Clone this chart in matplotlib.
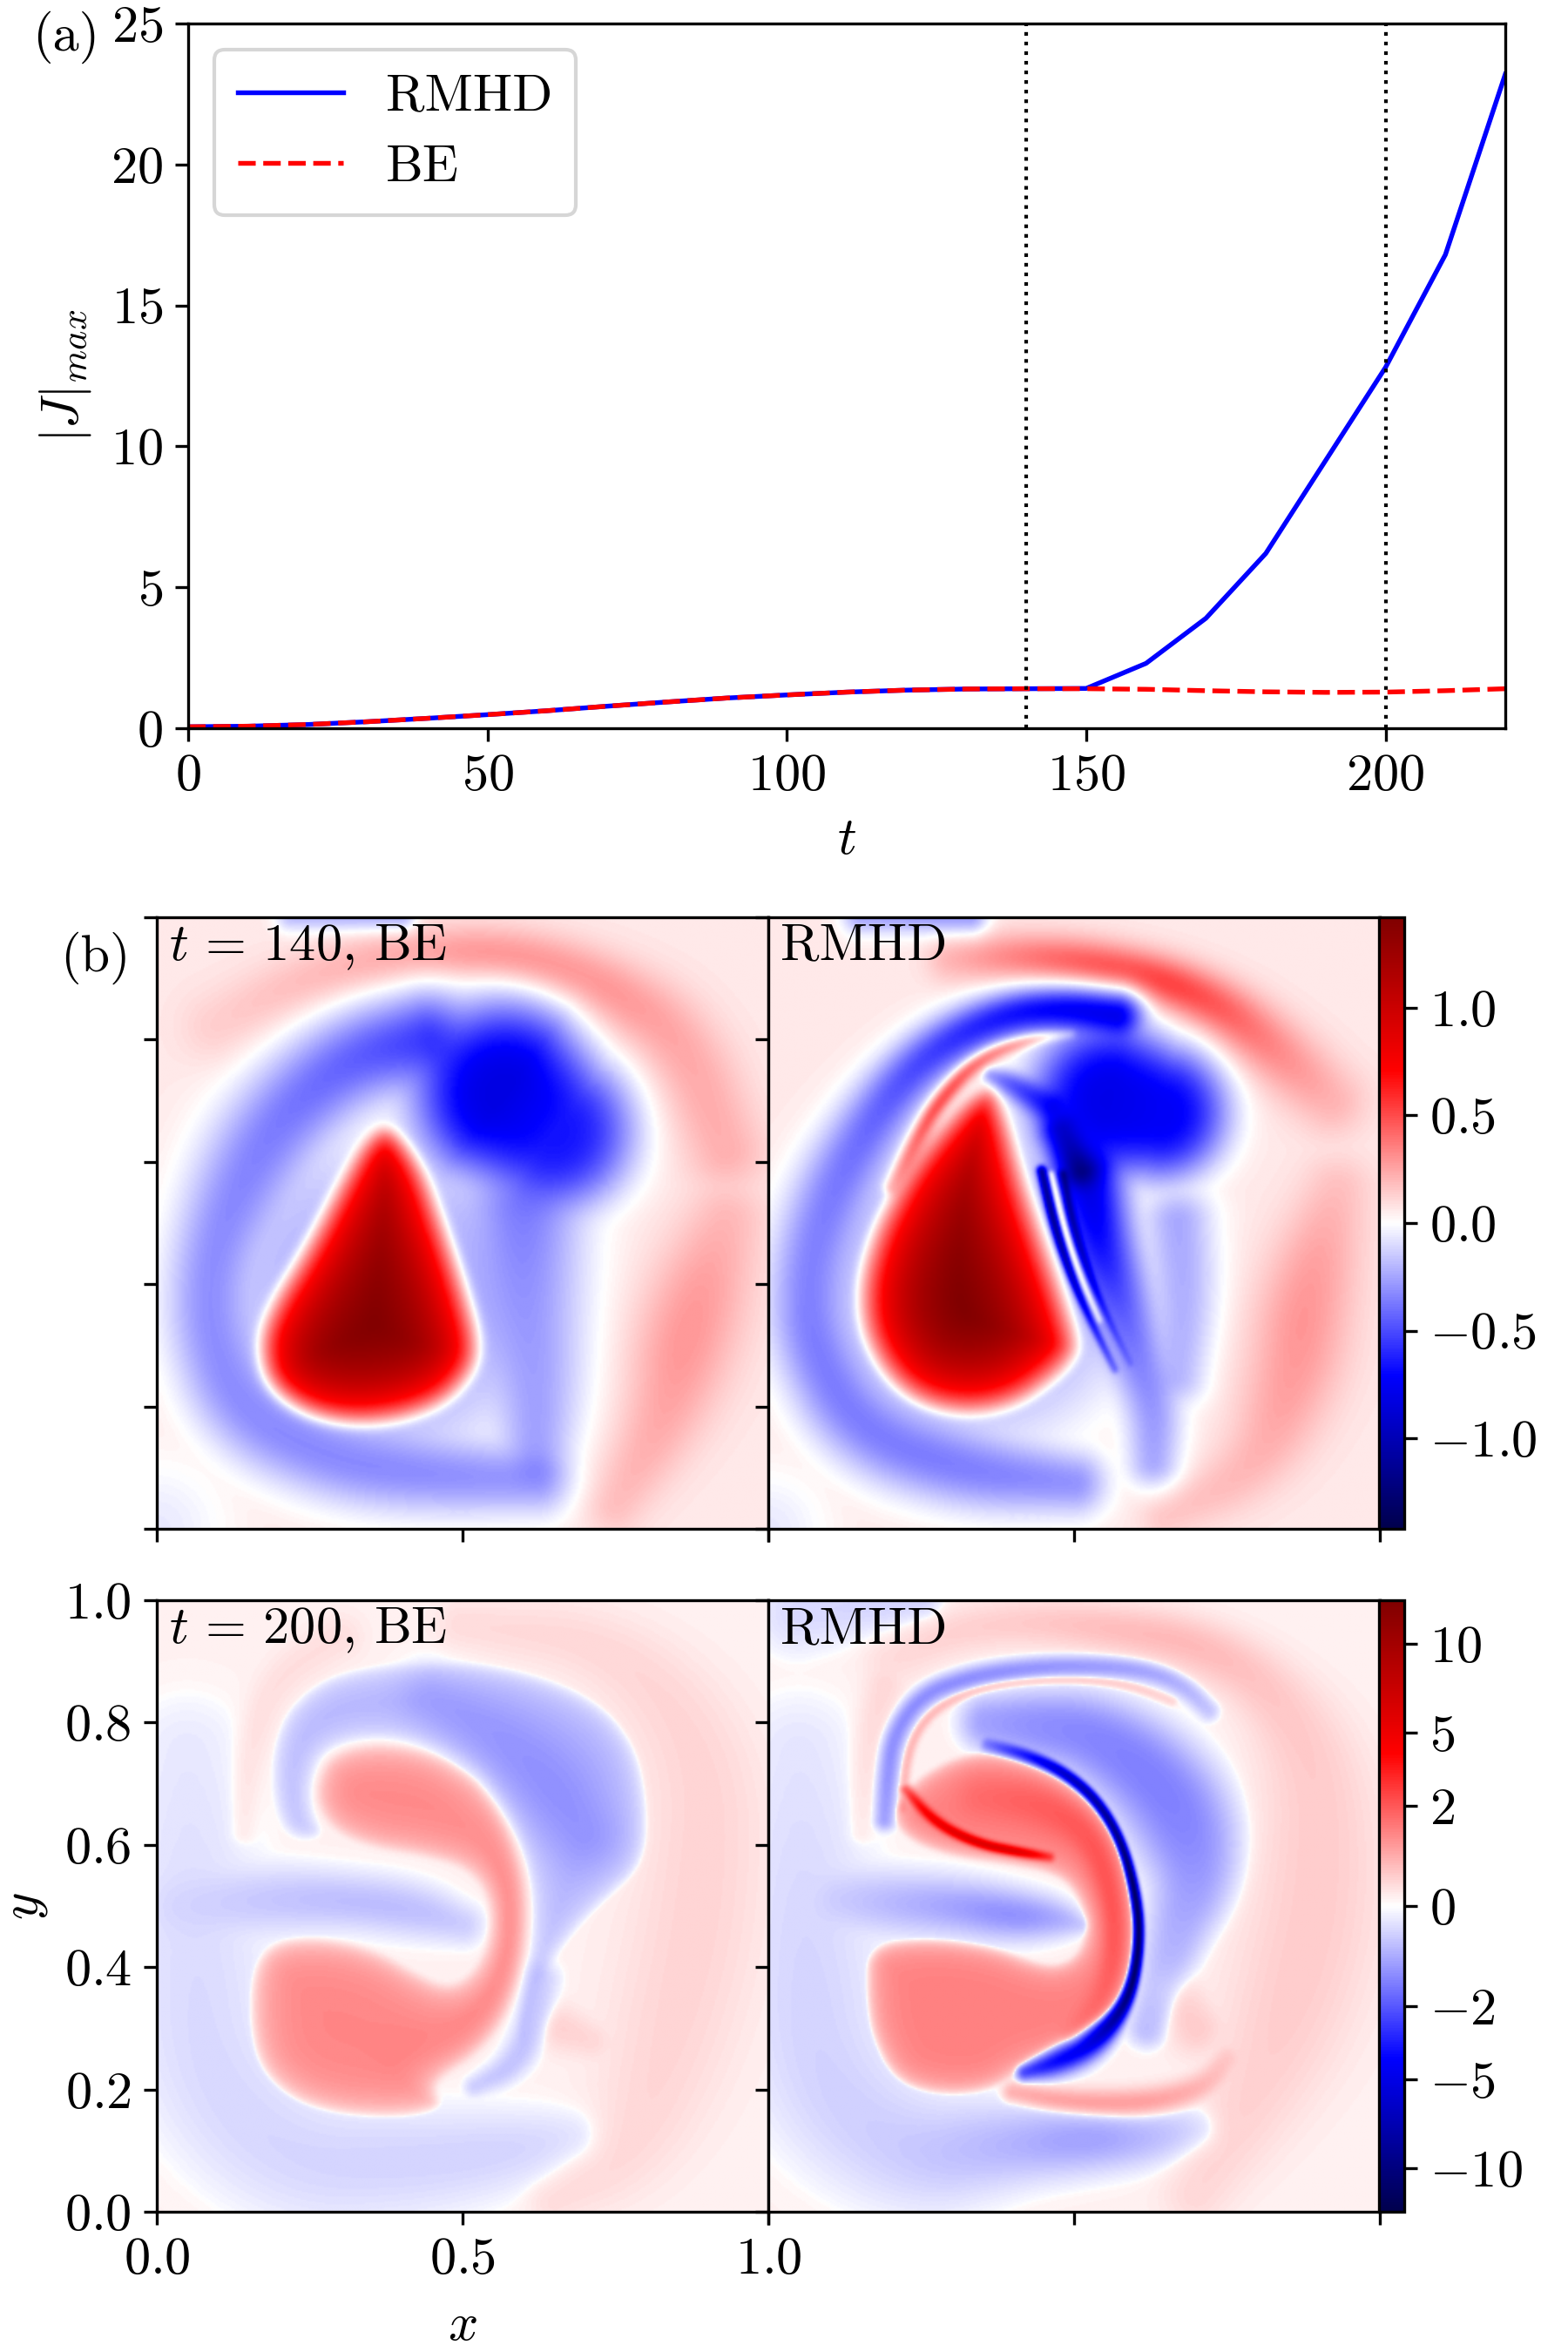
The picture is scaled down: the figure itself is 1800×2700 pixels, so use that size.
import numpy as np
import matplotlib
matplotlib.use("Agg")
import matplotlib.pyplot as plt
from matplotlib.path import Path
from matplotlib.colors import FuncNorm, Normalize

plt.rcParams.update({
    "font.family": "serif",
    "font.serif": ["cmr10", "DejaVu Serif"],
    "mathtext.fontset": "cm",
    "axes.formatter.use_mathtext": True,
    "axes.unicode_minus": True,
})

# ---------------- panel (a) data ----------------
t_vals = [0, 10, 20, 30, 40, 50, 60, 70, 80, 90, 100, 110, 120, 130, 140, 150,
          160, 170, 180, 190, 200, 210, 220]
J_rmhd = [0.05, 0.07, 0.13, 0.23, 0.35, 0.48, 0.62, 0.78, 0.93, 1.07, 1.18, 1.28,
          1.35, 1.39, 1.40, 1.41, 2.3, 3.9, 6.2, 9.5, 12.8, 16.8, 23.2]
J_be = [0.05, 0.07, 0.13, 0.23, 0.35, 0.48, 0.62, 0.78, 0.93, 1.07, 1.18, 1.28,
        1.35, 1.39, 1.40, 1.40, 1.38, 1.33, 1.29, 1.27, 1.28, 1.33, 1.40]
t_marks = [140, 200]

# ---------------- panel (b) colour scales ----------------
vmax_140 = 1.42
vmax_200 = 12.9
cbar_ticks_140 = [-1.0, -0.5, 0.0, 0.5, 1.0]
cbar_ticks_200 = [-10, -5, -2, 0, 2, 5, 10]
gamma_200 = 0.6

# ---------------- field features ----------------
A_bg, B_bg, C_bg, D_bg = 0.06, 0.06, 0.03, 0.03
# regions: (amplitude, depth, outline vertices (x, y))
# strokes: (exponent, [(x, y, amplitude, half-width), ...])
A_regions = [
    (1.75, 0.06, [(0.382, 0.670), (0.44, 0.605), (0.482, 0.50), (0.517, 0.397), (0.541, 0.307),
                  (0.53, 0.252), (0.482, 0.197), (0.406, 0.166), (0.316, 0.157), (0.233, 0.176),
                  (0.171, 0.225), (0.154, 0.294), (0.171, 0.363), (0.233, 0.466), (0.289, 0.570),
                  (0.337, 0.646)]),
]
A_strokes = [
    (4, [(0.37, 0.37, -0.3, 0.27)]),
    (2, [(0.62, 0.08, -0.34, 0.06), (0.42, 0.09, -0.38, 0.07), (0.28, 0.115, -0.38, 0.075),
         (0.14, 0.19, -0.38, 0.08), (0.085, 0.32, -0.37, 0.075), (0.09, 0.45, -0.37, 0.075),
         (0.15, 0.59, -0.4, 0.09), (0.22, 0.69, -0.44, 0.085), (0.32, 0.77, -0.5, 0.08),
         (0.44, 0.80, -0.6, 0.08)]),
    (3, [(0.57, 0.71, -0.88, 0.15), (0.65, 0.65, -0.72, 0.13)]),
    (2, [(0.60, 0.52, -0.42, 0.1), (0.605, 0.38, -0.34, 0.1), (0.62, 0.24, -0.32, 0.085),
         (0.62, 0.11, -0.32, 0.06)]),
    (2, [(0.10, 0.82, 0.08, 0.06), (0.25, 0.90, 0.14, 0.05), (0.42, 0.94, 0.2, 0.045),
         (0.58, 0.94, 0.26, 0.045), (0.73, 0.89, 0.24, 0.055), (0.86, 0.80, 0.18, 0.07),
         (0.93, 0.62, 0.16, 0.07)]),
    (2, [(0.93, 0.50, 0.14, 0.07), (0.87, 0.33, 0.25, 0.09), (0.83, 0.18, 0.18, 0.07),
         (0.75, 0.04, 0.12, 0.05)]),
    (2, [(0.0, 0.0, -0.12, 0.12)]),
    (2, [(0.22, 1.0, -0.25, 0.025), (0.40, 1.0, -0.3, 0.025)]),
]

B_regions = [
    (1.8, 0.07, [(0.37, 0.729), (0.397, 0.674), (0.425, 0.591), (0.46, 0.494), (0.494, 0.397),
                 (0.518, 0.314), (0.515, 0.28), (0.48, 0.238), (0.411, 0.19), (0.328, 0.173),
                 (0.245, 0.19), (0.183, 0.238), (0.142, 0.314), (0.135, 0.397), (0.156, 0.48),
                 (0.19, 0.549), (0.225, 0.605), (0.273, 0.66), (0.328, 0.715)]),
]
B_strokes = [
    (4, [(0.34, 0.40, -0.3, 0.27)]),
    (2, [(0.20, 0.56, 0.25, 0.013), (0.24, 0.63, 0.5, 0.015), (0.28, 0.70, 0.55, 0.015),
         (0.342, 0.767, 0.5, 0.014), (0.425, 0.80, 0.35, 0.011), (0.494, 0.808, 0.15, 0.008)]),
    (2, [(0.50, 0.075, -0.36, 0.055), (0.32, 0.095, -0.42, 0.07), (0.15, 0.16, -0.42, 0.075),
         (0.07, 0.30, -0.42, 0.07), (0.065, 0.42, -0.4, 0.07), (0.10, 0.54, -0.42, 0.07),
         (0.16, 0.65, -0.47, 0.06), (0.225, 0.74, -0.55, 0.05), (0.30, 0.80, -0.63, 0.045),
         (0.39, 0.84, -0.72, 0.04), (0.48, 0.85, -0.8, 0.04), (0.57, 0.84, -0.85, 0.045)]),
    (3, [(0.56, 0.70, -0.85, 0.13), (0.64, 0.68, -0.8, 0.11)]),
    (2, [(0.51, 0.585, -1.1, 0.04), (0.48, 0.65, -0.9, 0.04)]),
    (2, [(0.52, 0.58, -0.9, 0.06), (0.54, 0.47, -0.75, 0.06), (0.57, 0.38, -0.55, 0.06),
         (0.60, 0.29, -0.42, 0.055), (0.63, 0.20, -0.35, 0.05), (0.63, 0.11, -0.3, 0.045)]),
    (2, [(0.447, 0.585, -1.25, 0.009), (0.468, 0.494, -1.3, 0.009), (0.496, 0.41, -1.1, 0.008),
         (0.527, 0.34, -0.8, 0.008), (0.567, 0.26, -0.5, 0.008)]),
    (2, [(0.482, 0.58, -1.2, 0.009), (0.499, 0.494, -1.15, 0.009), (0.527, 0.41, -0.9, 0.008),
         (0.557, 0.34, -0.6, 0.008), (0.592, 0.27, -0.4, 0.008)]),
    (2, [(0.463, 0.58, 0.55, 0.004), (0.483, 0.494, 0.6, 0.004), (0.511, 0.41, 0.5, 0.004),
         (0.542, 0.34, 0.3, 0.004)]),
    (2, [(0.46, 0.69, -0.7, 0.035), (0.40, 0.725, -0.55, 0.025), (0.365, 0.74, -0.35, 0.015)]),
    (2, [(0.67, 0.50, -0.3, 0.06), (0.68, 0.38, -0.28, 0.06), (0.67, 0.25, -0.26, 0.05)]),
    (2, [(0.30, 0.93, 0.15, 0.04), (0.45, 0.935, 0.35, 0.04), (0.62, 0.905, 0.5, 0.04),
         (0.73, 0.86, 0.42, 0.045), (0.82, 0.79, 0.28, 0.055), (0.92, 0.70, 0.15, 0.06)]),
    (2, [(0.93, 0.55, 0.12, 0.06), (0.88, 0.38, 0.24, 0.08), (0.86, 0.25, 0.22, 0.08),
         (0.80, 0.10, 0.14, 0.06), (0.65, 0.02, 0.1, 0.04)]),
    (2, [(0.15, 1.0, -0.3, 0.03), (0.33, 1.0, -0.35, 0.03)]),
    (2, [(0.0, 0.0, -0.12, 0.1)]),
]

C_regions = [
    (1.15, 0.03, [(0.261, 0.705), (0.282, 0.747), (0.344, 0.767), (0.427, 0.76), (0.496, 0.733),
                  (0.544, 0.685), (0.579, 0.623), (0.603, 0.54), (0.606, 0.457), (0.593, 0.374),
                  (0.565, 0.305), (0.523, 0.257), (0.468, 0.222), (0.454, 0.201), (0.468, 0.17),
                  (0.406, 0.153), (0.302, 0.157), (0.22, 0.181), (0.164, 0.236), (0.15, 0.319),
                  (0.157, 0.402), (0.192, 0.443), (0.268, 0.45), (0.358, 0.429), (0.427, 0.388),
                  (0.475, 0.367), (0.516, 0.388), (0.544, 0.443), (0.544, 0.512), (0.51, 0.56),
                  (0.44, 0.581), (0.351, 0.595), (0.289, 0.622), (0.261, 0.664)]),
    (-0.6, 0.03, [(0.20, 0.63), (0.185, 0.72), (0.20, 0.80), (0.24, 0.85), (0.302, 0.885),
                  (0.44, 0.902), (0.579, 0.892), (0.717, 0.843), (0.786, 0.767), (0.807, 0.664),
                  (0.80, 0.567), (0.737, 0.512), (0.682, 0.457), (0.634, 0.388), (0.615, 0.32),
                  (0.60, 0.26), (0.585, 0.30), (0.60, 0.374), (0.613, 0.457), (0.610, 0.54),
                  (0.586, 0.625), (0.55, 0.69), (0.50, 0.74), (0.427, 0.768), (0.344, 0.775),
                  (0.275, 0.755), (0.253, 0.705), (0.255, 0.655), (0.275, 0.615), (0.235, 0.605)]),
]
C_strokes = [
    (2, [(0.45, 0.84, -0.3, 0.05), (0.62, 0.72, -0.5, 0.08), (0.70, 0.62, -0.4, 0.06)]),
    (2, [(0.04, 0.50, -0.2, 0.06), (0.18, 0.51, -0.35, 0.05), (0.30, 0.51, -0.45, 0.04),
         (0.42, 0.495, -0.45, 0.04), (0.50, 0.47, -0.3, 0.03)]),
    (2, [(0.05, 0.75, -0.1, 0.09), (0.06, 0.45, -0.18, 0.11), (0.08, 0.22, -0.2, 0.11),
         (0.22, 0.08, -0.22, 0.1), (0.42, 0.08, -0.24, 0.08), (0.58, 0.10, -0.24, 0.06),
         (0.68, 0.12, -0.15, 0.045)]),
    (2, [(0.63, 0.38, -0.3, 0.025), (0.615, 0.30, -0.4, 0.025), (0.58, 0.235, -0.4, 0.022),
         (0.52, 0.205, -0.3, 0.015)]),
    (2, [(0.52, 0.69, 0.1, 0.03), (0.575, 0.58, 0.25, 0.025), (0.585, 0.46, 0.3, 0.02),
         (0.56, 0.35, 0.25, 0.02), (0.48, 0.27, 0.15, 0.03), (0.40, 0.26, 0.1, 0.04)]),
    (2, [(0.50, 0.96, 0.12, 0.04), (0.75, 0.93, 0.15, 0.06), (0.90, 0.75, 0.17, 0.09),
         (0.89, 0.50, 0.18, 0.1), (0.84, 0.28, 0.17, 0.1), (0.78, 0.10, 0.14, 0.07),
         (0.65, 0.02, 0.12, 0.04)]),
    (2, [(0.14, 0.62, 0.08, 0.02), (0.15, 0.75, 0.1, 0.025), (0.19, 0.87, 0.1, 0.03),
         (0.30, 0.94, 0.1, 0.035)]),
    (2, [(0.66, 0.30, 0.2, 0.035), (0.71, 0.28, 0.15, 0.03)]),
]

D_regions = [
    (1.25, 0.02, [(0.225, 0.69), (0.26, 0.72), (0.31, 0.745), (0.37, 0.755), (0.44, 0.735),
                  (0.50, 0.70), (0.55, 0.655), (0.585, 0.59), (0.60, 0.51), (0.605, 0.44),
                  (0.592, 0.37), (0.565, 0.315), (0.52, 0.27), (0.46, 0.245), (0.42, 0.235),
                  (0.36, 0.195), (0.27, 0.19), (0.204, 0.215), (0.169, 0.284), (0.159, 0.353),
                  (0.162, 0.436), (0.259, 0.45), (0.363, 0.436), (0.432, 0.409), (0.473, 0.402),
                  (0.508, 0.422), (0.522, 0.47), (0.501, 0.526), (0.466, 0.553), (0.397, 0.567),
                  (0.294, 0.581), (0.225, 0.609), (0.20, 0.65)]),
]
D_strokes = [
    (2, [(0.36, 0.765, -1.5, 0.012), (0.43, 0.745, -4.0, 0.010), (0.49, 0.715, -7.0, 0.008),
         (0.54, 0.67, -9.0, 0.007), (0.578, 0.605, -11, 0.006), (0.60, 0.525, -13, 0.006),
         (0.608, 0.455, -13, 0.006), (0.598, 0.375, -12, 0.007), (0.572, 0.318, -9, 0.011),
         (0.525, 0.272, -5.0, 0.02), (0.47, 0.245, -4.0, 0.02), (0.42, 0.228, -2.5, 0.012)]),
    (2, [(0.225, 0.69, 2.0, 0.008), (0.273, 0.636, 4.0, 0.008), (0.342, 0.602, 5.5, 0.007),
         (0.411, 0.588, 5.5, 0.007), (0.46, 0.58, 2.0, 0.007)]),
    (2, [(0.19, 0.64, -0.8, 0.014), (0.195, 0.71, -1.0, 0.015), (0.205, 0.78, -1.1, 0.015),
         (0.25, 0.845, -1.1, 0.015), (0.33, 0.875, -1.1, 0.015), (0.43, 0.89, -1.0, 0.015),
         (0.53, 0.893, -0.9, 0.015), (0.62, 0.885, -0.8, 0.015), (0.68, 0.86, -0.6, 0.015),
         (0.72, 0.82, -0.4, 0.015)]),
    (2, [(0.22, 0.66, 0.5, 0.007), (0.225, 0.74, 0.5, 0.007), (0.25, 0.80, 0.5, 0.007),
         (0.30, 0.84, 0.45, 0.007), (0.38, 0.865, 0.4, 0.007), (0.48, 0.872, 0.35, 0.007),
         (0.58, 0.865, 0.3, 0.007), (0.66, 0.835, 0.2, 0.007)]),
    (2.5, [(0.36, 0.80, -0.8, 0.04), (0.44, 0.795, -1.05, 0.05), (0.53, 0.78, -1.2, 0.06),
           (0.62, 0.72, -1.3, 0.07), (0.68, 0.64, -1.25, 0.075), (0.70, 0.55, -0.9, 0.06),
           (0.67, 0.46, -0.6, 0.045), (0.645, 0.38, -0.5, 0.035), (0.62, 0.30, -0.45, 0.028)]),
    (2, [(0.12, 0.51, -0.3, 0.05), (0.20, 0.505, -0.5, 0.045), (0.30, 0.50, -0.75, 0.04),
         (0.40, 0.485, -1.1, 0.035), (0.47, 0.48, -0.7, 0.028), (0.51, 0.47, -0.35, 0.015)]),
    (2, [(0.05, 0.75, -0.12, 0.09), (0.06, 0.45, -0.22, 0.11), (0.08, 0.22, -0.25, 0.11),
         (0.22, 0.09, -0.3, 0.09), (0.40, 0.11, -0.55, 0.055), (0.52, 0.118, -0.85, 0.045),
         (0.62, 0.12, -0.5, 0.04), (0.70, 0.135, -0.25, 0.035)]),
    (2, [(0.40, 0.195, 0.6, 0.015), (0.48, 0.18, 0.85, 0.018), (0.58, 0.175, 0.9, 0.02),
         (0.66, 0.185, 0.7, 0.02), (0.72, 0.21, 0.45, 0.02), (0.75, 0.25, 0.3, 0.02)]),
    (2, [(0.35, 0.68, 0.4, 0.04), (0.45, 0.67, 0.7, 0.04), (0.53, 0.62, 0.9, 0.03),
         (0.565, 0.52, 1.0, 0.025), (0.57, 0.42, 0.9, 0.022), (0.55, 0.35, 0.7, 0.022),
         (0.50, 0.29, 0.4, 0.02)]),
    (2, [(0.20, 0.90, 0.12, 0.04), (0.30, 0.95, 0.2, 0.035), (0.42, 0.965, 0.25, 0.035),
         (0.56, 0.955, 0.4, 0.035), (0.70, 0.93, 0.45, 0.04), (0.82, 0.86, 0.3, 0.05),
         (0.90, 0.72, 0.25, 0.08), (0.90, 0.52, 0.25, 0.1), (0.86, 0.35, 0.25, 0.1),
         (0.80, 0.20, 0.2, 0.08), (0.70, 0.03, 0.15, 0.05)]),
    (2, [(0.15, 0.62, 0.08, 0.02), (0.16, 0.76, 0.12, 0.025), (0.19, 0.86, 0.15, 0.03)]),
    (2, [(0.66, 0.36, 0.2, 0.04), (0.70, 0.30, 0.25, 0.04)]),
    (2, [(0.05, 0.98, -0.2, 0.06), (0.25, 1.0, -0.25, 0.03)]),
]

# ---------------- field synthesis helpers ----------------
NG = 400
gx = (np.arange(NG) + 0.5) / NG
GX, GY = np.meshgrid(gx, gx)


def chaikin(arr, closed, n=2):
    a = np.asarray(arr, float)
    for _ in range(n):
        if closed:
            b = np.roll(a, -1, axis=0)
            q = 0.75 * a + 0.25 * b
            r = 0.25 * a + 0.75 * b
            a = np.empty((2 * len(q), a.shape[1]))
            a[0::2] = q
            a[1::2] = r
        else:
            if len(a) < 3:
                break
            q = 0.75 * a[:-1] + 0.25 * a[1:]
            r = 0.25 * a[:-1] + 0.75 * a[1:]
            mid = np.empty((2 * len(q), a.shape[1]))
            mid[0::2] = q
            mid[1::2] = r
            a = np.vstack([a[:1], mid, a[-1:]])
    return a


def region_field(amp, depth, verts):
    v = chaikin(verts, True, 3)
    P = np.column_stack([GX.ravel(), GY.ravel()])
    inside = Path(v).contains_points(P)
    vv = np.vstack([v, v[:1]])
    dmin = np.full(len(P), np.inf)
    for a, b in zip(vv[:-1], vv[1:]):
        ab = b - a
        L2 = ab @ ab + 1e-12
        tt = np.clip(((P - a) @ ab) / L2, 0, 1)
        d = np.hypot(P[:, 0] - (a[0] + tt * ab[0]), P[:, 1] - (a[1] + tt * ab[1]))
        dmin = np.minimum(dmin, d)
    f = np.where(inside, amp * (1 - np.exp(-dmin / depth)), 0.0)
    return f.reshape(NG, NG)


def stroke_field(p, pts):
    a = chaikin(pts, False, 3)
    sign = np.sign(np.mean(a[:, 2]))
    best = np.zeros((NG, NG))
    if len(a) == 1:
        a = np.vstack([a, a])
    for s0, s1 in zip(a[:-1], a[1:]):
        wmax = max(s0[3], s1[3]) * 3.5
        x0 = min(s0[0], s1[0]) - wmax
        x1 = max(s0[0], s1[0]) + wmax
        y0 = min(s0[1], s1[1]) - wmax
        y1 = max(s0[1], s1[1]) + wmax
        i0 = max(int(x0 * NG), 0)
        i1 = min(int(x1 * NG) + 2, NG)
        j0 = max(int(y0 * NG), 0)
        j1 = min(int(y1 * NG) + 2, NG)
        if i1 <= i0 or j1 <= j0:
            continue
        X = GX[j0:j1, i0:i1]
        Y = GY[j0:j1, i0:i1]
        abx, aby = s1[0] - s0[0], s1[1] - s0[1]
        L2 = abx * abx + aby * aby + 1e-12
        tt = np.clip(((X - s0[0]) * abx + (Y - s0[1]) * aby) / L2, 0, 1)
        d = np.hypot(X - (s0[0] + tt * abx), Y - (s0[1] + tt * aby))
        am = np.abs(s0[2] + tt * (s1[2] - s0[2]))
        w = s0[3] + tt * (s1[3] - s0[3])
        val = am * np.exp(-(d / w) ** p)
        best[j0:j1, i0:i1] = np.maximum(best[j0:j1, i0:i1], val)
    return sign, best


def blur(F, s):
    r = int(3 * s) + 1
    k = np.exp(-0.5 * (np.arange(-r, r + 1) / s) ** 2)
    k /= k.sum()
    Fp = np.pad(F, r, mode="reflect")
    tmp = np.zeros((Fp.shape[0], F.shape[1]))
    for i, kv in enumerate(k):
        tmp += kv * Fp[:, i:i + F.shape[1]]
    out = np.zeros_like(F)
    for i, kv in enumerate(k):
        out += kv * tmp[i:i + F.shape[0], :]
    return out


def build(bg, regions, strokes, s_reg, s_str, q=3.0):
    R = np.zeros((NG, NG))
    for amp, depth, verts in regions:
        R += region_field(amp, depth, verts)
    pos = np.zeros((NG, NG))
    neg = np.zeros((NG, NG))
    for p, pts in strokes:
        sg, mag = stroke_field(p, pts)
        if sg >= 0:
            pos += mag ** q
        else:
            neg += mag ** q
    S = pos ** (1.0 / q) - neg ** (1.0 / q)
    return bg + blur(R, s_reg) + blur(S, s_str)


field_A = build(A_bg, A_regions, A_strokes, 3.5, 1.5)
field_B = build(B_bg, B_regions, B_strokes, 3.0, 1.2)
field_C = build(C_bg, C_regions, C_strokes, 2.0, 1.0)
field_D = build(D_bg, D_regions, D_strokes, 1.5, 0.9)

# ---------------- figure ----------------
fig = plt.figure(figsize=(6, 9), dpi=300)
FS = 14.5

ax = fig.add_axes([0.12, 0.6904, 0.84, 0.2996])
ax.plot(t_vals, J_rmhd, color="blue", lw=1.3, label="RMHD")
ax.plot(t_vals, J_be, color="red", lw=1.3, ls="--", label="BE")
for tm in t_marks:
    ax.axvline(tm, color="k", ls=":", lw=1.0)
ax.set_xlim(0, 220)
ax.set_ylim(0, 25)
ax.set_xticks([0, 50, 100, 150, 200])
ax.set_yticks([0, 5, 10, 15, 20, 25])
ax.tick_params(labelsize=FS)
ax.set_xlabel(r"$t$", fontsize=FS)
ax.set_ylabel(r"$|J|_{max}$", fontsize=FS)
ax.xaxis.set_label_coords(0.5, -0.126)
ax.yaxis.set_label_coords(-0.072, 0.5)
ax.legend(loc="upper left", fontsize=FS, handlelength=2.0, borderpad=0.45,
          labelspacing=0.45)
fig.text(0.042, 0.984, "(a)", ha="center", va="center", fontsize=FS)
fig.text(0.061, 0.5926, "(b)", ha="center", va="center", fontsize=FS)

cmap = "seismic"
norm1 = Normalize(vmin=-vmax_140, vmax=vmax_140)


def _fwd(x):
    return np.sign(x) * np.abs(x) ** gamma_200


def _inv(y):
    return np.sign(y) * np.abs(y) ** (1.0 / gamma_200)


norm2 = FuncNorm((_fwd, _inv), vmin=-vmax_200, vmax=vmax_200)

rows = [
    (0.35, [(field_A, r"$t\,=\,140$, BE"), (field_B, "RMHD")], norm1, cbar_ticks_140,
     [r"$-1.0$", r"$-0.5$", r"$0.0$", r"$0.5$", r"$1.0$"]),
    (0.0596, [(field_C, r"$t\,=\,200$, BE"), (field_D, "RMHD")], norm2, cbar_ticks_200,
     [r"$%d$" % v for v in cbar_ticks_200]),
]
lefts = [0.1, 0.49]
W = 0.39
H = 0.2600
for ri, (bottom, panels, norm, cticks, clabels) in enumerate(rows):
    im = None
    for ci, (F, title) in enumerate(panels):
        a = fig.add_axes([lefts[ci], bottom, W, H])
        im = a.imshow(F, origin="lower", extent=[0, 1, 0, 1], cmap=cmap, norm=norm,
                      interpolation="bilinear", aspect="auto")
        a.set_xlim(0, 1)
        a.set_ylim(0, 1)
        a.set_xticks([0, 0.5, 1.0])
        a.set_yticks([0, 0.2, 0.4, 0.6, 0.8, 1.0])
        a.tick_params(labelsize=FS)
        a.text(0.02, 0.99, title, transform=a.transAxes, ha="left", va="top",
               fontsize=FS)
        if ri == 1 and ci == 0:
            a.set_xticklabels([r"$0.0$", r"$0.5$", r"$1.0$"])
            a.set_yticklabels([r"$0.0$", r"$0.2$", r"$0.4$", r"$0.6$", r"$0.8$", r"$1.0$"])
            a.set_xlabel(r"$x$", fontsize=FS)
            a.set_ylabel(r"$y$", fontsize=FS)
            a.xaxis.set_label_coords(0.5, -0.15)
            a.yaxis.set_label_coords(-0.175, 0.5)
        else:
            a.set_xticklabels([])
            a.set_yticklabels([])
    cax = fig.add_axes([0.8797, bottom, 0.016, H])
    cb = fig.colorbar(im, cax=cax)
    cb.set_ticks(cticks)
    cb.set_ticklabels(clabels)
    cb.ax.tick_params(labelsize=FS)
    cb.outline.set_linewidth(0.8)

fig.savefig("out.png", dpi=300)
